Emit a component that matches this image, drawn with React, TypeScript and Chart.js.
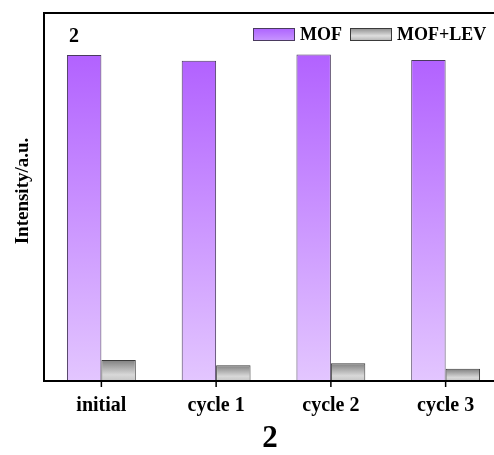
import { useEffect, useRef } from "react";
import { Chart, registerables } from "chart.js";

Chart.register(...registerables);

// Categories and measured intensities (arbitrary units, 0–100 scale)
const categories = ["initial", "cycle 1", "cycle 2", "cycle 3"];
const mofValues = [88.6, 87.0, 88.7, 87.2];
const mofLevValues = [5.7, 4.3, 4.8, 3.3];
const seriesNames = ["MOF", "MOF+LEV"];
const panelLabel = "2";
const yAxisTitle = "Intensity/a.u.";
const yMax = 100;

const SERIF = "'Liberation Serif', 'Times New Roman', serif";

const MOF_STOPS: [number, string][] = [
  [0, "#b262ff"],
  [1, "#e3c6ff"],
];
const LEV_STOPS: [number, string][] = [
  [0, "#7f7f7f"],
  [0.7, "#d8d8d8"],
  [1, "#c6c6c6"],
];

function barGradient(ctx: any, stops: [number, string][]) {
  const chart = ctx.chart;
  if (!chart.chartArea || ctx.type !== "data") return stops[0][1];
  const yScale = chart.scales.y;
  const top = yScale.getPixelForValue(ctx.raw);
  const bottom = yScale.getPixelForValue(0);
  const g = chart.ctx.createLinearGradient(0, top, 0, Math.max(bottom, top + 1));
  stops.forEach(([o, c]) => g.addColorStop(o, c));
  return g;
}

// Frame, tick marks, legend, panel label, y title and bottom caption
const decorations = {
  id: "decorations",
  afterDatasetsDraw(chart: any) {
    const { ctx, chartArea } = chart;
    const { left, top, right, bottom } = chartArea;
    ctx.save();

    // plot frame
    ctx.strokeStyle = "#000";
    ctx.lineWidth = 2;
    ctx.strokeRect(left, top, right - left, bottom - top);

    // outward tick marks at category centres
    const xScale = chart.scales.x;
    ctx.lineWidth = 1.5;
    ctx.beginPath();
    categories.forEach((_, i) => {
      const x = xScale.getPixelForTick(i);
      ctx.moveTo(x, bottom);
      ctx.lineTo(x, bottom + 6);
    });
    ctx.stroke();

    // panel label
    ctx.fillStyle = "#000";
    ctx.font = `bold 20px ${SERIF}`;
    ctx.textAlign = "center";
    ctx.textBaseline = "alphabetic";
    ctx.fillText(panelLabel, 74, 42);

    // legend
    const boxes = [
      { x: 253, stops: [[0, "#ad62ff"], [1, "#c896ff"]] as [number, string][], border: "#4a3a5e", text: seriesNames[0], tx: 300 },
      { x: 350, stops: [[0, "#8a8a8a"], [0.6, "#dedede"], [1, "#b0b0b0"]] as [number, string][], border: "#3a3a3a", text: seriesNames[1], tx: 397 },
    ];
    const by = 28;
    const bh = 13;
    const bw = 42;
    ctx.font = `bold 18px ${SERIF}`;
    ctx.textAlign = "left";
    ctx.textBaseline = "middle";
    boxes.forEach((b) => {
      const g = ctx.createLinearGradient(0, by, 0, by + bh);
      b.stops.forEach(([o, c]) => g.addColorStop(o, c));
      ctx.fillStyle = g;
      ctx.fillRect(b.x, by, bw, bh);
      ctx.strokeStyle = b.border;
      ctx.lineWidth = 1;
      ctx.strokeRect(b.x + 0.5, by + 0.5, bw - 1, bh - 1);
      ctx.fillStyle = "#000";
      ctx.fillText(b.text, b.tx, by + bh / 2 + 1);
    });

    // y axis title
    ctx.save();
    ctx.translate(23, 191);
    ctx.rotate(-Math.PI / 2);
    ctx.font = `bold 19px ${SERIF}`;
    ctx.textAlign = "center";
    ctx.textBaseline = "middle";
    ctx.fillStyle = "#000";
    ctx.fillText(yAxisTitle, 0, 0);
    ctx.restore();

    // bottom caption
    ctx.font = `bold 31px ${SERIF}`;
    ctx.textAlign = "center";
    ctx.textBaseline = "alphabetic";
    ctx.fillStyle = "#000";
    ctx.fillText(panelLabel, 270, 447);

    ctx.restore();
  },
};

export default function App() {
  const canvasRef = useRef<HTMLCanvasElement | null>(null);

  useEffect(() => {
    if (!canvasRef.current) return;
    const chart = new Chart(canvasRef.current, {
      type: "bar",
      data: {
        labels: categories,
        datasets: [
          {
            label: seriesNames[0],
            data: mofValues,
            backgroundColor: (c: any) => barGradient(c, MOF_STOPS),
            borderColor: "#4a3a5e",
            borderWidth: 1,
            categoryPercentage: 0.6,
            barPercentage: 1,
          },
          {
            label: seriesNames[1],
            data: mofLevValues,
            backgroundColor: (c: any) => barGradient(c, LEV_STOPS),
            borderColor: "#3a3a3a",
            borderWidth: 1,
            categoryPercentage: 0.6,
            barPercentage: 1,
          },
        ],
      },
      options: {
        animation: false,
        responsive: true,
        maintainAspectRatio: false,
        layout: { padding: { left: 44, top: 13, right: 17, bottom: 30 } },
        plugins: {
          legend: { display: false },
          tooltip: { enabled: false },
          title: { display: false },
        },
        scales: {
          x: {
            grid: {
              display: true,
              drawOnChartArea: false,
              drawTicks: true,
              tickLength: 6,
              color: "rgba(0,0,0,0)",
            },
            border: { display: false },
            ticks: {
              color: "#000",
              font: { family: SERIF, size: 20, weight: "bold" },
              padding: 7,
              maxRotation: 0,
            },
          },
          y: {
            display: false,
            min: 0,
            max: yMax,
          },
        },
      },
      plugins: [decorations],
    });
    return () => chart.destroy();
  }, []);

  return (
    <div
      style={{
        position: "fixed",
        left: 0,
        top: 0,
        width: 494,
        height: 455,
        overflow: "hidden",
        background: "#fff",
      }}
    >
      <div style={{ position: "relative", width: 520, height: 455 }}>
        <canvas ref={canvasRef} />
      </div>
    </div>
  );
}
